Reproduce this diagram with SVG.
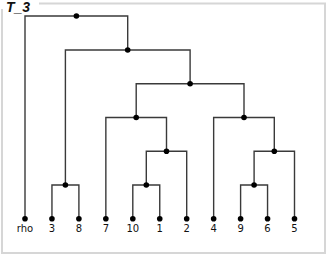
<svg xmlns="http://www.w3.org/2000/svg" width="327" height="256" viewBox="0 0 327 256">
<style>
.frame{fill:none;stroke:#d6d6d6;stroke-width:2}
.title{font-family:"Liberation Sans",Arial,sans-serif;font-weight:bold;font-style:italic;font-size:14px;fill:#111}
.edge{fill:none;stroke:#3a3a3a;stroke-width:1.4}
.dot{fill:#000}
.lbl{font-family:"DejaVu Sans",sans-serif;font-size:10px;fill:#111;text-anchor:middle}
</style>
<rect width="327" height="256" fill="#fff"/>
<path class="frame" d="M39,3.5 H325 V253 H2 V9"/>
<text class="title" x="6" y="12">T_3</text>
<g id="connectors">
<path class="edge" d="M25,218.7 V16 H127.7 V50"/>
<path class="edge" d="M65.4,185 V50 H190.1 V83.7"/>
<path class="edge" d="M136.2,117.5 V83.7 H244 V117.5"/>
<path class="edge" d="M105.85,218.7 V117.5 H166.5 V151.2"/>
<path class="edge" d="M146.3,185 V151.2 H186.7 V218.7"/>
<path class="edge" d="M132.8,218.7 V185 H159.75 V218.7"/>
<path class="edge" d="M51.95,218.7 V185 H78.9 V218.7"/>
<path class="edge" d="M213.65,218.7 V117.5 H274.3 V151.2"/>
<path class="edge" d="M254.1,185 V151.2 H294.5 V218.7"/>
<path class="edge" d="M240.6,218.7 V185 H267.55 V218.7"/>
</g>
<g id="n_root"><circle class="dot" cx="76.4" cy="16" r="2.8"/></g>
<g id="n_a"><circle class="dot" cx="127.7" cy="50" r="2.8"/></g>
<g id="n_b"><circle class="dot" cx="190.1" cy="83.7" r="2.8"/></g>
<g id="n_c"><circle class="dot" cx="136.2" cy="117.5" r="2.8"/></g>
<g id="n_d"><circle class="dot" cx="244" cy="117.5" r="2.8"/></g>
<g id="n_e"><circle class="dot" cx="166.5" cy="151.2" r="2.8"/></g>
<g id="n_f"><circle class="dot" cx="274.3" cy="151.2" r="2.8"/></g>
<g id="n_g"><circle class="dot" cx="65.4" cy="185" r="2.8"/></g>
<g id="n_h"><circle class="dot" cx="146.3" cy="185" r="2.8"/></g>
<g id="n_i"><circle class="dot" cx="254.1" cy="185" r="2.8"/></g>
<g id="leaf_rho"><circle class="dot" cx="25" cy="218.7" r="2.8"/><text class="lbl" x="25" y="232">rho</text></g>
<g id="leaf_3"><circle class="dot" cx="51.95" cy="218.7" r="2.8"/><text class="lbl" x="51.95" y="232">3</text></g>
<g id="leaf_8"><circle class="dot" cx="78.9" cy="218.7" r="2.8"/><text class="lbl" x="78.9" y="232">8</text></g>
<g id="leaf_7"><circle class="dot" cx="105.85" cy="218.7" r="2.8"/><text class="lbl" x="105.85" y="232">7</text></g>
<g id="leaf_10"><circle class="dot" cx="132.8" cy="218.7" r="2.8"/><text class="lbl" x="132.8" y="232">10</text></g>
<g id="leaf_1"><circle class="dot" cx="159.75" cy="218.7" r="2.8"/><text class="lbl" x="159.75" y="232">1</text></g>
<g id="leaf_2"><circle class="dot" cx="186.7" cy="218.7" r="2.8"/><text class="lbl" x="186.7" y="232">2</text></g>
<g id="leaf_4"><circle class="dot" cx="213.65" cy="218.7" r="2.8"/><text class="lbl" x="213.65" y="232">4</text></g>
<g id="leaf_9"><circle class="dot" cx="240.6" cy="218.7" r="2.8"/><text class="lbl" x="240.6" y="232">9</text></g>
<g id="leaf_6"><circle class="dot" cx="267.55" cy="218.7" r="2.8"/><text class="lbl" x="267.55" y="232">6</text></g>
<g id="leaf_5"><circle class="dot" cx="294.5" cy="218.7" r="2.8"/><text class="lbl" x="294.5" y="232">5</text></g>
</svg>
